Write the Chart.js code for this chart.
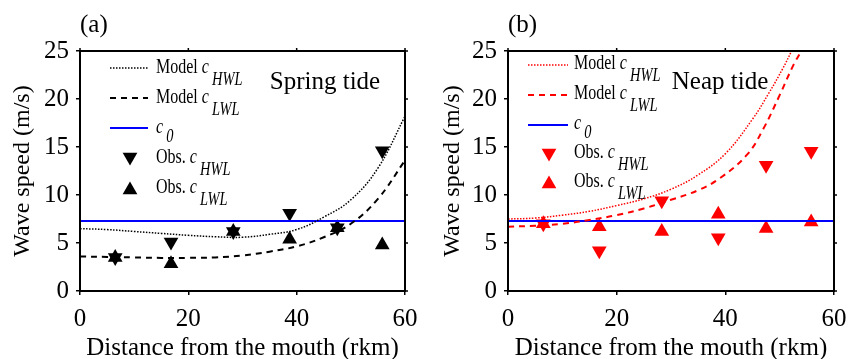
<!DOCTYPE html>
<html>
<head>
<meta charset="utf-8">
<script src="https://cdn.jsdelivr.net/npm/chart.js@4.4.0/dist/chart.umd.min.js"></script>
<style>
  html, body { margin: 0; padding: 0; background: #fff; }
  .panel { position: absolute; top: 0; height: 359px; }
  #boxA { left: 0; width: 430px; }
  #boxB { left: 430px; width: 431px; }
</style>
</head>
<body>
<div class="panel" id="boxA"><canvas id="chartA" width="430" height="359"></canvas></div>
<div class="panel" id="boxB"><canvas id="chartB" width="431" height="359"></canvas></div>
<script>
// --- dados ---
const stations = [6.5, 16.8, 28.3, 38.7, 47.5, 55.8]; // rkm
const c0 = 7.3;

// (a) maré de sizígia
const springObsHWL = [3.5, 5.1, 6.2, 8.1, 6.6, 14.6];
const springObsLWL = [3.5, 2.85, 6.2, 5.4, 6.6, 4.8];
const springModelX = [0, 5, 10, 15, 20, 25, 30, 35, 40, 45, 50, 55, 60];
const springModelHWL = [6.5, 6.4, 6.2, 6.0, 5.8, 5.65, 5.6, 5.9, 6.4, 7.7, 9.5, 12.8, 18.2];
const springModelLWL = [3.6, 3.55, 3.5, 3.45, 3.45, 3.5, 3.7, 4.1, 4.65, 5.6, 7.0, 9.6, 13.6];

// (b) maré de quadratura
const neapObsHWL = [7.0, 4.2, 9.4, 5.55, 13.1, 14.55];
const neapObsLWL = [7.0, 6.7, 6.2, 8.0, 6.5, 7.2];
const neapModelHWLX = [0, 5, 10, 15, 20, 25, 30, 35, 40, 45, 48, 50.6, 52.2];
const neapModelHWL = [7.5, 7.6, 7.9, 8.3, 8.9, 9.6, 10.6, 12.1, 14.3, 17.9, 20.6, 23.2, 25];
const neapModelLWLX = [0, 5, 10, 15, 20, 25, 30, 35, 39, 44, 47, 50, 52.5, 54];
const neapModelLWL = [6.7, 6.8, 7.0, 7.4, 7.9, 8.6, 9.5, 10.5, 11.75, 14.2, 16.9, 20.4, 23.5, 25];

const xTicks = [0, 20, 40, 60];
const yTicks = [0, 5, 10, 15, 20, 25];

const SERIF = '"Liberation Serif", "Times New Roman", serif';
const toPoints = (xs, ys) => xs.map((x, i) => ({ x: x, y: ys[i] }));

// desenha triângulo (para a legenda) igual ao pointStyle do Chart.js
function drawTriangle(ctx, x, y, r, down, color) {
    ctx.save();
    ctx.fillStyle = color;
    ctx.beginPath();
    let rad = down ? Math.PI : 0;
    for (let k = 0; k < 3; k++) {
        const px = x + Math.sin(rad) * r;
        const py = y - Math.cos(rad) * r;
        if (k === 0) ctx.moveTo(px, py); else ctx.lineTo(px, py);
        rad += 2 * Math.PI / 3;
    }
    ctx.closePath();
    ctx.fill();
    ctx.restore();
}

// texto "Prefixo c_sub" com subscrito em itálico (a figura original tem o texto estreitado)
function drawLabel(ctx, x, y, prefix, sub, subDy) {
    ctx.save();
    ctx.translate(x, y);
    ctx.scale(0.8, 1);
    ctx.fillStyle = '#000';
    ctx.textBaseline = 'alphabetic';
    ctx.textAlign = 'left';
    ctx.font = '20px ' + SERIF;
    ctx.fillText(prefix, 0, 0);
    let cx = ctx.measureText(prefix).width;
    ctx.font = 'italic 20px ' + SERIF;
    ctx.fillText('c', cx, 0);
    cx += ctx.measureText('c').width + 4;
    ctx.font = 'italic 18px ' + SERIF;
    ctx.fillText(sub, cx, subDy);
    ctx.restore();
}

// plugin: moldura, ticks de cima/direita, legenda e anotações
const framePlugin = {
    id: 'frame',
    afterDatasetsDraw(chart, args, opts) {
        const { ctx, chartArea: a, scales } = chart;
        ctx.save();
        ctx.strokeStyle = '#000';
        ctx.lineWidth = 2;
        ctx.strokeRect(a.left, a.top, a.right - a.left, a.bottom - a.top);
        ctx.lineWidth = 1.5;
        ctx.beginPath();
        xTicks.forEach(v => {
            const px = scales.x.getPixelForValue(v);
            ctx.moveTo(px, a.top); ctx.lineTo(px, a.top - 3);
        });
        yTicks.forEach(v => {
            const py = scales.y.getPixelForValue(v);
            ctx.moveTo(a.right, py); ctx.lineTo(a.right + 3, py);
        });
        ctx.stroke();

        // legenda
        const L = opts.legend;
        const base = L.base;
        [0, 1, 2].forEach(i => {
            ctx.save();
            ctx.strokeStyle = L.lines[i].color;
            ctx.lineWidth = L.lines[i].width;
            ctx.setLineDash(L.lines[i].dash);
            ctx.beginPath();
            ctx.moveTo(L.x0, L.lineY[i]);
            ctx.lineTo(L.x1, L.lineY[i]);
            ctx.stroke();
            ctx.restore();
        });
        drawTriangle(ctx, L.mx, L.markY[0], 8.5, true, L.markColor);
        drawTriangle(ctx, L.mx, L.markY[1], 8.5, false, L.markColor);
        drawLabel(ctx, L.tx, base[0], 'Model ', 'HWL', 12);
        drawLabel(ctx, L.tx, base[1], 'Model ', 'LWL', 12);
        drawLabel(ctx, L.tx, base[2], '', '0', 9);
        drawLabel(ctx, L.tx, base[3], 'Obs. ', 'HWL', 12);
        drawLabel(ctx, L.tx, base[4], 'Obs. ', 'LWL', 12);

        // rótulos
        ctx.fillStyle = '#000';
        ctx.font = '25px ' + SERIF;
        ctx.textBaseline = 'middle';
        ctx.textAlign = 'center';
        ctx.fillText(opts.tide.text, opts.tide.x, opts.tide.y);
        ctx.textAlign = 'left';
        ctx.fillText(opts.tag, a.left, 25);
        ctx.restore();
    }
};

function makeChart(id, cfg) {
    const datasets = [
        {
            label: 'Model cHWL', type: 'line', data: toPoints(cfg.hwlX, cfg.hwl),
            borderColor: cfg.color, borderWidth: 1.5, borderDash: [1.5, 1.5],
            pointRadius: 0, tension: 0.4, fill: false
        },
        {
            label: 'Model cLWL', type: 'line', data: toPoints(cfg.lwlX, cfg.lwl),
            borderColor: cfg.color, borderWidth: 2, borderDash: [6, 5],
            pointRadius: 0, tension: 0.4, fill: false
        },
        {
            label: 'c0', type: 'line', data: [{ x: 0, y: c0 }, { x: 60, y: c0 }],
            borderColor: '#0000ff', borderWidth: 2, pointRadius: 0, fill: false
        },
        {
            label: 'Obs. cHWL', type: 'scatter', data: toPoints(stations, cfg.obsHWL),
            pointStyle: 'triangle', rotation: 180, pointRadius: 8.5,
            backgroundColor: cfg.color, borderColor: cfg.color, borderWidth: 0
        },
        {
            label: 'Obs. cLWL', type: 'scatter', data: toPoints(stations, cfg.obsLWL),
            pointStyle: 'triangle', pointRadius: 8.5,
            backgroundColor: cfg.color, borderColor: cfg.color, borderWidth: 0
        }
    ];

    return new Chart(document.getElementById(id), {
        type: 'scatter',
        data: { datasets: datasets },
        options: {
            responsive: false,
            animation: false,
            layout: { padding: { top: 51, right: cfg.padRight, left: 0, bottom: 0 } },
            plugins: {
                legend: { display: false },
                tooltip: { enabled: false },
                frame: { legend: cfg.legend, tide: cfg.tide, tag: cfg.tag }
            },
            scales: {
                x: {
                    type: 'linear', min: 0, max: 60,
                    afterFit: s => { s.height = 68; },
                    afterBuildTicks: s => { s.ticks = xTicks.map(v => ({ value: v })); },
                    border: { display: false },
                    grid: { drawOnChartArea: false, drawTicks: true, tickLength: 4, color: '#000', lineWidth: 1.5 },
                    ticks: { color: '#000', font: { family: SERIF, size: 25 }, padding: 9, maxRotation: 0 },
                    title: {
                        display: true, text: 'Distance from the mouth (rkm)', color: '#000',
                        font: { family: SERIF, size: 25, lineHeight: 0.88 }, padding: 0
                    }
                },
                y: {
                    type: 'linear', min: 0, max: 25,
                    afterFit: s => { s.width = cfg.yWidth; },
                    afterBuildTicks: s => { s.ticks = yTicks.map(v => ({ value: v })); },
                    border: { display: false },
                    grid: { drawOnChartArea: false, drawTicks: true, tickLength: 4, color: '#000', lineWidth: 1.5 },
                    ticks: { color: '#000', font: { family: SERIF, size: 25 }, padding: 7 },
                    title: {
                        display: true, text: 'Wave speed (m/s)', color: '#000',
                        font: { family: SERIF, size: 24, lineHeight: 1.2 }, padding: { top: 8, bottom: 0 }
                    }
                }
            }
        },
        plugins: [framePlugin]
    });
}

makeChart('chartA', {
    color: '#000000', hwlX: springModelX, hwl: springModelHWL, lwlX: springModelX, lwl: springModelLWL,
    obsHWL: springObsHWL, obsLWL: springObsLWL, yWidth: 80, padRight: 25, tag: '(a)',
    tide: { text: 'Spring tide', x: 325, y: 82 },
    legend: {
        x0: 110, x1: 148, tx: 156, mx: 130, markColor: '#000',
        base: [73, 103, 133, 163, 193], lineY: [68, 98, 128], markY: [157, 190],
        lines: [
            { color: '#000', width: 1.5, dash: [1.5, 1.5] },
            { color: '#000', width: 2, dash: [6, 5] },
            { color: '#0000ff', width: 2, dash: [] }
        ]
    }
});

makeChart('chartB', {
    color: '#ff0000', hwlX: neapModelHWLX, hwl: neapModelHWL, lwlX: neapModelLWLX, lwl: neapModelLWL,
    obsHWL: neapObsHWL, obsLWL: neapObsLWL, yWidth: 78, padRight: 27, tag: '(b)',
    tide: { text: 'Neap tide', x: 290, y: 82 },
    legend: {
        x0: 98, x1: 138, tx: 144, mx: 119, markColor: '#ff0000',
        base: [69, 99, 129, 158, 187], lineY: [65, 95, 125], markY: [153, 184],
        lines: [
            { color: '#ff0000', width: 1.5, dash: [1.5, 1.5] },
            { color: '#ff0000', width: 2, dash: [6, 5] },
            { color: '#0000ff', width: 2, dash: [] }
        ]
    }
});
</script>
</body>
</html>
